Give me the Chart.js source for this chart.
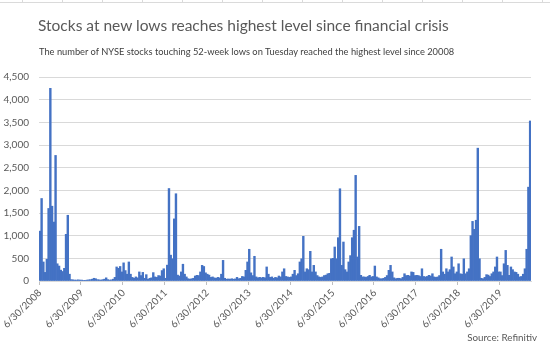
<!DOCTYPE html>
<html>
<head>
<meta charset="utf-8">
<script src="https://cdn.jsdelivr.net/npm/chart.js@4.4.1/dist/chart.umd.min.js"></script>
<style>
  html, body { margin: 0; padding: 0; background: #fff; }
  body { width: 550px; height: 347px; position: relative; overflow: hidden; font-family: Lato, sans-serif; }
  #cells {
    position: absolute; left: 0; top: 0; width: 550px; height: 2px;
    border-bottom: 1px solid #dadada;
    background: repeating-linear-gradient(to right, transparent 0, transparent 22px, #dadada 22px, #dadada 23px, transparent 23px, transparent 40px);
  }
  #title { position: absolute; left: 38px; top: 14px; font-size: 15.5px; line-height: 22px; color: #595959; white-space: nowrap; }
  #subtitle { position: absolute; left: 39px; top: 45px; font-size: 9.3px; line-height: 13px; color: #404040; white-space: nowrap; }
  #source { position: absolute; right: 13px; top: 331px; font-size: 9.8px; line-height: 13px; color: #595959; white-space: nowrap; }
  canvas { position: absolute; left: 0; top: 0; }
</style>
</head>
<body>
<div id="cells"></div>
<canvas id="chart" width="550" height="347"></canvas>
<div id="title">Stocks at new lows reaches highest level since financial crisis</div>
<div id="subtitle">The number of NYSE stocks touching 52-week lows on Tuesday reached the highest level since 20008</div>
<div id="source">Source: Refinitiv</div>
<script>
// NYSE stocks at 52-week lows at half-month steps
// each year runs 6/30 -> mid June of the next year
const y2008 = [1100,1820,420,190,480,1600,4250,1650,1300,2770,380,330,240,210,280,1030,1450,150,30,25,20,20,25,20];
const y2009 = [20,15,15,20,25,30,40,60,50,30,25,20,30,40,70,30,20,25,40,80,310,280,320,200];
const y2010 = [400,230,150,420,150,80,60,90,70,200,120,190,60,140,40,60,70,185,90,80,120,110,230,270];
const y2011 = [60,350,2040,570,490,1370,1925,130,110,200,370,150,90,50,40,50,60,110,125,120,200,345,320,180];
const y2012 = [150,130,80,90,70,60,80,70,150,455,60,40,45,40,50,40,45,80,50,60,100,90,235,420];
const y2013 = [700,180,120,545,90,70,80,70,80,70,310,150,80,90,60,80,70,110,90,200,270,100,90,80];
const y2014 = [90,150,235,120,160,420,490,985,200,270,250,655,200,345,200,120,90,80,90,120,130,160,170,490];
const y2015 = [500,750,490,955,2035,345,860,250,200,420,560,955,1120,2330,530,1205,125,90,90,80,100,125,90,100];
const y2016 = [330,90,70,50,50,60,80,120,235,345,200,70,50,60,60,50,80,160,120,125,110,200,190,120];
const y2017 = [125,120,100,270,100,90,100,125,110,160,90,80,90,120,700,200,150,270,200,250,530,310,160,200];
const y2018 = [380,160,150,490,160,200,270,1000,1315,1140,1340,2930,490,60,50,80,140,130,100,160,200,310,530,200];
const y2019 = [200,120,380,675,345,125,310,250,200,190,150,90,100,150,270,700,2070,3530];

const yearTicks = ['6/30/2008','6/30/2009','6/30/2010','6/30/2011','6/30/2012','6/30/2013',
                   '6/30/2014','6/30/2015','6/30/2016','6/30/2017','6/30/2018','6/30/2019'];

const lows = [].concat(y2008, y2009, y2010, y2011, y2012, y2013, y2014, y2015, y2016, y2017, y2018, y2019);

// half-month dates: month end, then the 15th of next month
const dates = [];
{
  let m = 6, y = 2008, half = 1;
  for (let i = 0; i < lows.length; i++) {
    const day = half ? new Date(y, m, 0).getDate() : 15;
    dates.push(m + '/' + day + '/' + y);
    if (half) { m++; if (m > 12) { m = 1; y++; } half = 0; } else { half = 1; }
  }
}

const grey = '#595959';

new Chart(document.getElementById('chart'), {
  type: 'bar',
  data: {
    labels: dates,
    datasets: [{
      data: lows,
      backgroundColor: '#4472C4',
      borderWidth: 0,
      barPercentage: 1,
      categoryPercentage: 1
    }]
  },
  options: {
    responsive: false,
    animation: false,
    layout: { padding: { top: 77, right: 19, bottom: 0, left: 0 } },
    plugins: { legend: { display: false }, tooltip: { enabled: false } },
    scales: {
      x: {
        afterFit: s => { s.height = 66; },
        grid: {
          drawOnChartArea: false,
          tickLength: 4,
          color: c => (c.tick && yearTicks.includes(dates[c.index])) ? '#bfbfbf' : 'rgba(0,0,0,0)'
        },
        border: { color: '#d9d9d9' },
        ticks: {
          autoSkip: false,
          minRotation: 45,
          maxRotation: 45,
          padding: 2,
          color: grey,
          font: { family: 'Lato', size: 10 },
          callback: (v, i) => yearTicks.includes(dates[i]) ? dates[i] : ''
        }
      },
      y: {
        min: 0,
        max: 4500,
        afterFit: s => { s.width = 39; },
        grid: { color: '#d9d9d9', drawTicks: false },
        border: { display: false },
        ticks: {
          stepSize: 500,
          padding: 10,
          color: grey,
          font: { family: 'Lato', size: 10 },
          callback: v => v.toLocaleString('en-US')
        }
      }
    }
  }
});
</script>
</body>
</html>
